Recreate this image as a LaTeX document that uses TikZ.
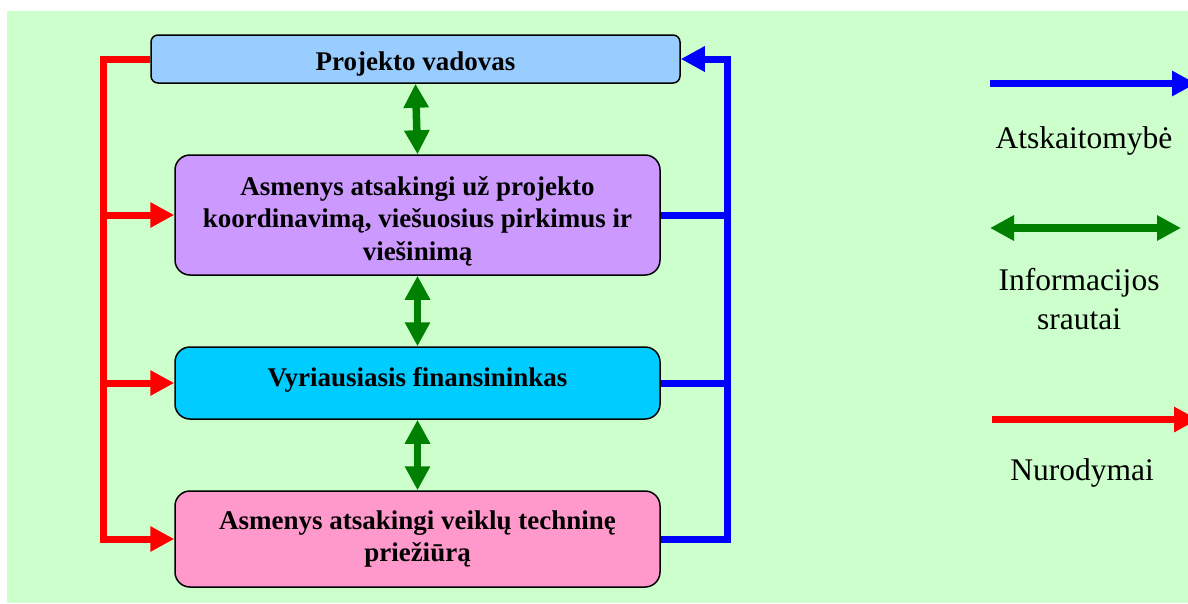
\documentclass[tikz,border=0pt]{standalone}
\usepackage{fontspec}
\setmainfont{Liberation Serif}
\usetikzlibrary{arrows.meta}
\definecolor{bgc}{HTML}{CCFFCC}
\definecolor{c1}{HTML}{99CCFF}
\definecolor{c2}{HTML}{CC99FF}
\definecolor{c3}{HTML}{00CCFF}
\definecolor{c4}{HTML}{FF99CC}
\definecolor{rep}{HTML}{0000FF}
\definecolor{inf}{HTML}{008000}
\definecolor{ins}{HTML}{FF0000}
\begin{document}
\begin{tikzpicture}[x=1pt,y=-1pt,
  box/.style={draw=black,line width=1.5pt,rounded corners=15pt,inner sep=0pt,
    minimum width=485pt},
  boxtext/.style={align=center,inner sep=0pt,font=\fontsize{27}{32.5}\selectfont\bfseries},
  wire/.style={line width=7pt,line join=miter},
  tip/.style={-{Triangle[length=24pt,width=24pt]}},
  bitip/.style={{Triangle[length=24pt,width=24pt]}-{Triangle[length=24pt,width=24pt]}},
  redw/.style={wire,draw=ins},
  bluew/.style={wire,draw=rep},
  greenw/.style={line width=7.5pt,draw=inf,bitip},
  legtext/.style={align=center,font=\fontsize{31.5}{39}\selectfont}]
\useasboundingbox (0,0) rectangle (1188,603);
\fill[bgc] (7,11) rectangle (1188,603);

% organisation boxes
\node[box,fill=c1,rounded corners=7pt,minimum width=529pt,minimum height=48pt] (pv) at (415.5,59) {};
\node[box,fill=c2,minimum height=120pt] (ak) at (417.5,215) {};
\node[box,fill=c3,minimum height=72pt] (vf) at (417.5,383) {};
\node[box,fill=c4,minimum height=96pt] (tp) at (417.5,539) {};

% box captions
\node[boxtext] (pvt) at ([yshift=-5pt]pv.center) {Projekto vadovas};
\node[boxtext] (akt) at ([yshift=-6pt]ak.center) {Asmenys atsakingi už projekto\\koordinavimą, viešuosius pirkimus ir\\viešinimą};
\node[boxtext] (vft) at ([yshift=3pt]vf.center) {Vyriausiasis finansininkas};
\node[boxtext] (tpt) at (tp.center) {Asmenys atsakingi veiklų techninę\\priežiūrą};

% instructions bus (left)
\coordinate (rx) at (103,0);
\draw[redw,tip] (pv.west) -| (rx |- tp.west) -- (tp.west);
\draw[redw,tip] (rx |- ak.west) -- (ak.west);
\draw[redw,tip] (rx |- vf.west) -- (vf.west);

% reporting bus (right)
\coordinate (bx) at (727,0);
\draw[bluew,tip] (tp.east) -| (bx |- pv.east) -- (pv.east);
\draw[bluew] (ak.east) -- (bx |- ak.east);
\draw[bluew] (vf.east) -- (bx |- vf.east);

% information flows
\draw[greenw] (pv.south) -- (ak.north);
\draw[greenw] (ak.south) -- (vf.north);
\draw[greenw] (vf.south) -- (tp.north);

% legend
\coordinate (lb1) at (990,83.5);
\coordinate (lb2) at (1196,83.5);
\draw[bluew,tip] (lb1) -- (lb2);
\node[legtext] (lbt) at (1084,141) {Atskaitomybė};

\coordinate (lg1) at (990,228);
\coordinate (lg2) at (1181,228);
\draw[greenw] (lg1) -- (lg2);
\node[legtext] (lgt) at (1079,299) {Informacijos\\srautai};

\coordinate (lr1) at (992,419.5);
\coordinate (lr2) at (1198,419.5);
\draw[redw,tip] (lr1) -- (lr2);
\node[legtext] (lrt) at (1082,473) {Nurodymai};
\end{tikzpicture}
\end{document}
